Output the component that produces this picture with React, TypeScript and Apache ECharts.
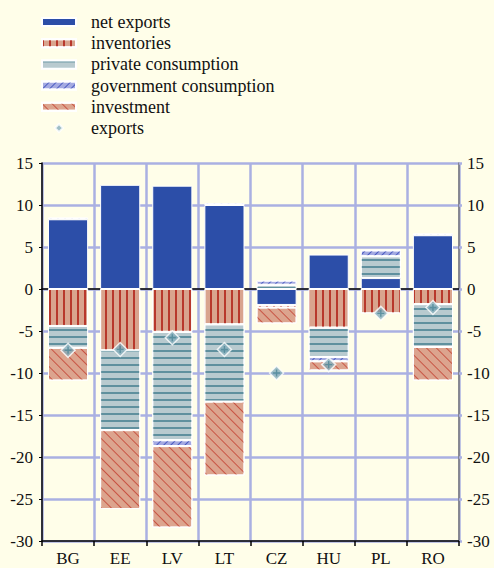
import React, { useEffect, useRef } from "react";
import * as echarts from "echarts";

const categories = ["BG", "EE", "LV", "LT", "CZ", "HU", "PL", "RO"];
const netExports = [8.3, 12.4, 12.3, 10.0, -1.9, 4.1, 1.3, 6.4];
const inventories = [-4.4, -7.3, -5.1, -4.2, -0.3, -4.6, -2.9, -1.8];
const privateConsumption = [-2.6, -9.5, -12.9, -9.2, 0.5, -3.5, 2.6, -5.1];
const governmentConsumption = [0.2, 0, -0.7, 0.2, 0.5, -0.5, 0.7, 0.2];
const investment = [-3.9, -9.4, -9.7, -8.8, -1.9, -1.1, 0, -4.0];
const exportsData = [-7.3, -7.2, -5.8, -7.2, -10.0, -9.0, -2.9, -2.2];
const yTicks = { min: -30, max: 15, interval: 5 };

const FONT = "'Liberation Serif', 'Times New Roman', serif";
const GRID_COLOR = "#AAB0E2";

export default function App() {
  const ref = useRef<HTMLDivElement>(null);
  useEffect(() => {
    if (!ref.current) return;
    const chart = echarts.init(ref.current, undefined, { renderer: "svg" });
    const border = { borderColor: "#FFFFFF", borderWidth: 1 };
    const barBase = {
      type: "bar",
      stack: "total",
      barCategoryGap: "23%",
      xAxisIndex: 0,
      yAxisIndex: 0,
      z: 2,
    };
    const diamond = "path://M5,0 L10,5 L5,10 L0,5 Z";
    const plus = "path://M4,0 L6,0 L6,4 L10,4 L10,6 L6,6 L6,10 L4,10 L4,6 L0,6 L0,4 L4,4 Z";
    const option: any = {
      animation: false,
      backgroundColor: "#FFFEE9",
      textStyle: { fontFamily: FONT },
      legend: {
        orient: "vertical",
        left: 41,
        top: 13,
        padding: 0,
        itemWidth: 34,
        itemHeight: 8,
        itemGap: 3.2,
        selectedMode: false,
        textStyle: { fontSize: 18, lineHeight: 18, color: "#111", fontFamily: FONT, padding: [0, 0, 0, 10] },
        data: [
          { name: "net exports", icon: "rect" },
          { name: "inventories", icon: "rect" },
          { name: "private consumption", icon: "rect" },
          { name: "government consumption", icon: "rect" },
          { name: "investment", icon: "rect" },
          { name: "exports" },
        ],
      },
      grid: { left: 42, right: 35, top: 163, bottom: 27, containLabel: false },
      xAxis: [
        {
          type: "category",
          data: categories,
          position: "bottom",
          axisLine: { onZero: false, lineStyle: { color: "#000", width: 1.5 } },
          axisTick: { show: true, length: 5, lineStyle: { color: "#000", width: 1.5 } },
          axisLabel: { fontSize: 17, color: "#111", margin: 9, fontFamily: FONT },
          splitLine: { show: true, lineStyle: { color: GRID_COLOR, width: 2.5 } },
        },
        {
          type: "category",
          data: categories,
          position: "top",
          axisLine: { show: true, onZero: true, lineStyle: { color: "#000", width: 1.5 } },
          axisTick: { show: false },
          axisLabel: { show: false },
          splitLine: { show: false },
        },
      ],
      yAxis: [
        {
          type: "value",
          position: "left",
          min: yTicks.min,
          max: yTicks.max,
          interval: yTicks.interval,
          axisLine: { show: true, lineStyle: { color: "#000", width: 1.5 } },
          axisTick: { show: true, length: 3, lineStyle: { color: "#000" } },
          axisLabel: { fontSize: 17, color: "#111", margin: 9, fontFamily: FONT },
          splitLine: { show: true, lineStyle: { color: GRID_COLOR, width: 2.5 } },
        },
        {
          type: "value",
          position: "right",
          min: yTicks.min,
          max: yTicks.max,
          interval: yTicks.interval,
          axisLine: { show: true, lineStyle: { color: "#777", width: 1.5 } },
          axisTick: { show: true, length: 3, lineStyle: { color: GRID_COLOR, width: 2.5 } },
          axisLabel: { fontSize: 17, color: "#111", margin: 8, fontFamily: FONT },
          splitLine: { show: false },
        },
      ],
      series: [
        {
          ...barBase,
          name: "net exports",
          data: netExports,
          itemStyle: { color: "#2C4EA8", ...border },
        },
        {
          ...barBase,
          name: "inventories",
          data: inventories,
          itemStyle: {
            color: "#D9A48E",
            ...border,
            decal: { symbol: "rect", symbolSize: 1, color: "#B8382C", dashArrayX: [2, 5], dashArrayY: [1, 0], rotation: 0 },
          },
        },
        {
          ...barBase,
          name: "private consumption",
          data: privateConsumption,
          itemStyle: {
            color: "#B8CACF",
            ...border,
            decal: { symbol: "rect", symbolSize: 1, color: "#5F909E", dashArrayX: [1, 0], dashArrayY: [1.6, 4.4], rotation: 0 },
          },
        },
        {
          ...barBase,
          name: "government consumption",
          data: governmentConsumption,
          itemStyle: {
            color: "#A4AAE2",
            ...border,
            decal: { symbol: "rect", symbolSize: 1, color: "#4A5BC0", dashArrayX: [1, 0], dashArrayY: [1, 4], rotation: -Math.PI / 4 },
          },
        },
        {
          ...barBase,
          name: "investment",
          data: investment,
          itemStyle: {
            color: "#DCA48E",
            ...border,
            decal: { symbol: "rect", symbolSize: 1, color: "#C85444", dashArrayX: [1, 0], dashArrayY: [0.7, 5.3], rotation: Math.PI / 4 },
          },
        },
        {
          type: "scatter",
          name: "exports",
          data: exportsData,
          xAxisIndex: 0,
          yAxisIndex: 0,
          symbol: diamond,
          symbolSize: 14,
          z: 5,
          itemStyle: { color: "#86AEBB", borderColor: "#FFFFFF", borderWidth: 1.5 },
        },
        {
          type: "scatter",
          name: "exports-mark",
          data: exportsData,
          xAxisIndex: 0,
          yAxisIndex: 0,
          symbol: plus,
          symbolSize: 7,
          z: 6,
          itemStyle: { color: "#4D8797" },
        },
      ],
    };
    chart.setOption(option);
    return () => chart.dispose();
  }, []);
  return (
    <div
      ref={ref}
      style={{ position: "fixed", left: 0, top: 0, width: 494, height: 568 }}
    />
  );
}
